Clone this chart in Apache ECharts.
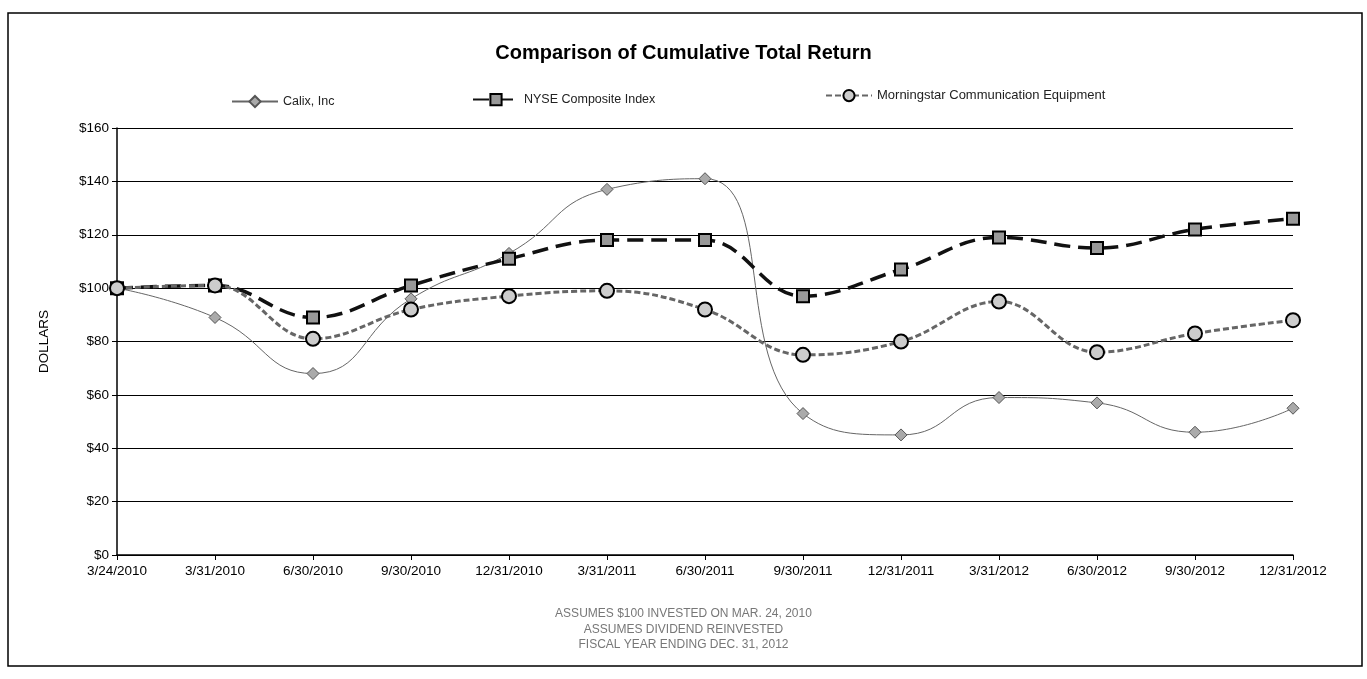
<!DOCTYPE html>
<html>
<head>
<meta charset="utf-8">
<title>Comparison of Cumulative Total Return</title>
<script src="https://cdn.jsdelivr.net/npm/echarts@6/dist/echarts.min.js"></script>
<style>
  html, body { margin: 0; padding: 0; background: #fff; }
  #chart { width: 1367px; height: 679px; }
</style>
</head>
<body>
<div id="chart"></div>
<script>
// quarter-end dates
const dates = ['3/24/2010', '3/31/2010', '6/30/2010', '9/30/2010', '12/31/2010', '3/31/2011',
  '6/30/2011', '9/30/2011', '12/31/2011', '3/31/2012', '6/30/2012', '9/30/2012', '12/31/2012']
const calix = [100, 89, 68, 96, 113, 137, 141, 53, 45, 59, 57, 46, 55]
const nyse = [100, 101, 89, 101, 111, 118, 118, 97, 107, 119, 115, 122, 126]
const morningstar = [100, 101, 81, 92, 97, 99, 92, 75, 80, 95, 76, 83, 88]
const footNotes = ['ASSUMES $100 INVESTED ON MAR. 24, 2010', 'ASSUMES DIVIDEND REINVESTED', 'FISCAL YEAR ENDING DEC. 31, 2012']

const font = 'Arial, "Liberation Sans", sans-serif'
const chart = echarts.init(document.getElementById('chart'))

const option = {
  backgroundColor: '#fff',
  animation: false,
  textStyle: { fontFamily: font },
  title: {
    text: 'Comparison of Cumulative Total Return',
    left: 'center',
    top: 38,
    textStyle: { fontSize: 20, fontWeight: 'bold', color: '#000', fontFamily: font }
  },
  legend: [
    { data: ['Calix, Inc'], left: 226, top: 90, itemWidth: 46, textStyle: { fontSize: 12.5, color: '#222' } },
    { data: ['NYSE Composite Index'], left: 467, top: 88, itemWidth: 46, textStyle: { fontSize: 12.5, color: '#222' } },
    { data: ['Morningstar Communication Equipment'], left: 820, top: 84, itemWidth: 46, textStyle: { fontSize: 13, color: '#222' } }
  ],
  grid: {
    left: 117,
    right: 74,
    top: 128,
    bottom: 124
  },
  xAxis: {
    type: 'category',
    data: dates,
    boundaryGap: false,
    axisLine: { lineStyle: { color: '#000', width: 1.5 } },
    axisTick: { show: true, length: 5, lineStyle: { color: '#000' } },
    axisLabel: { color: '#000', fontSize: 13.5, margin: 9, interval: 0 }
  },
  yAxis: {
    type: 'value',
    min: 0,
    max: 160,
    interval: 20,
    name: 'DOLLARS',
    nameLocation: 'middle',
    nameGap: 66,
    nameRotate: 90,
    nameTextStyle: { color: '#000', fontSize: 13.5 },
    axisLine: { show: true, lineStyle: { color: '#000', width: 1.5 } },
    axisTick: { show: true, length: 5, lineStyle: { color: '#000' } },
    axisLabel: { color: '#000', fontSize: 13.5, formatter: '${value}' },
    splitLine: { lineStyle: { color: '#000', width: 1 } }
  },
  series: [
    {
      name: 'Calix, Inc',
      type: 'line',
      data: calix,
      smooth: 0.5,
      symbol: 'diamond',
      symbolSize: 12,
      lineStyle: { color: '#666', width: 1 },
      itemStyle: { color: '#aaa', borderColor: '#555', borderWidth: 1 },
      z: 3
    },
    {
      name: 'NYSE Composite Index',
      type: 'line',
      data: nyse,
      smooth: 0.4,
      symbol: 'rect',
      symbolSize: 12,
      lineStyle: { color: '#111', width: 3.5, type: [16, 8] },
      itemStyle: { color: '#999', borderColor: '#000', borderWidth: 2 },
      z: 4
    },
    {
      name: 'Morningstar Communication Equipment',
      type: 'line',
      data: morningstar,
      smooth: 0.4,
      symbol: 'circle',
      symbolSize: 14,
      lineStyle: { color: '#666', width: 3, type: [6, 3] },
      itemStyle: { color: '#ccc', borderColor: '#000', borderWidth: 2 },
      z: 5
    }
  ],
  graphic: [
    {
      type: 'rect',
      shape: { x: 8, y: 13, width: 1354, height: 653 },
      style: { fill: 'none', stroke: '#000', lineWidth: 1.5 },
      silent: true
    },
    {
      type: 'group',
      left: 'center',
      top: 608,
      children: footNotes.map((t, i) => ({
        type: 'text',
        x: 0,
        y: i * 15.5,
        style: { text: t, fill: '#777', font: '12px ' + font, textAlign: 'center' }
      }))
    }
  ]
}

chart.setOption(option)
</script>
</body>
</html>
